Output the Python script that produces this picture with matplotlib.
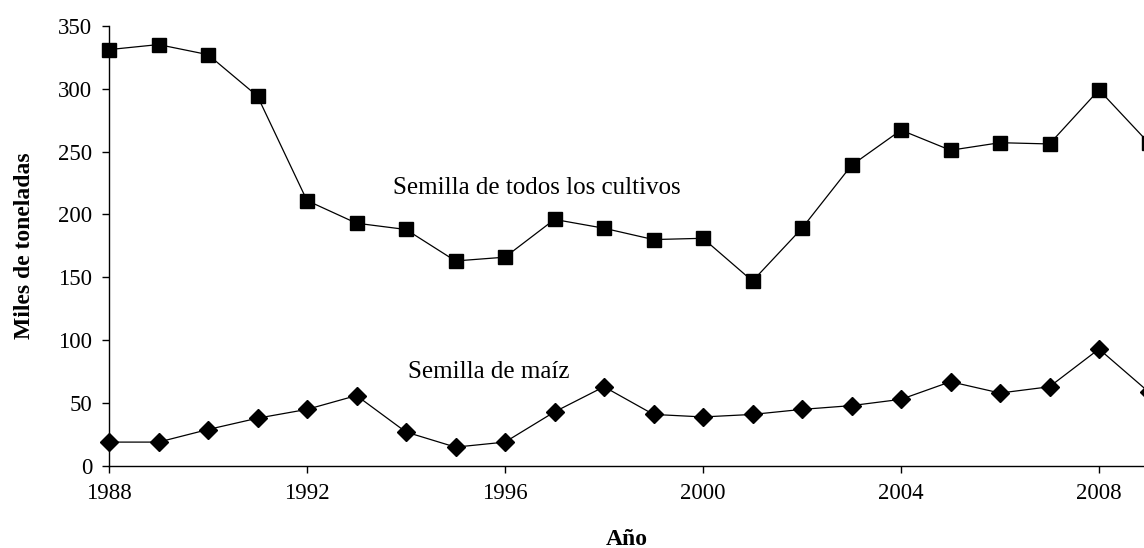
import matplotlib
matplotlib.use("Agg")
import matplotlib.pyplot as plt

years = list(range(1988, 2010))
todos = [331, 335, 327, 294, 211, 193, 188, 163, 166, 196, 189, 180, 181, 147,
         189, 239, 267, 251, 257, 256, 299, 257]
maiz = [19, 19, 29, 38, 45, 56, 27, 15, 19, 43, 63, 41, 39, 41,
        45, 48, 53, 67, 58, 63, 93, 59]
xticks = [1988, 1992, 1996, 2000, 2004, 2008]
yticks = [0, 50, 100, 150, 200, 250, 300, 350]

plt.rcParams['font.family'] = ['Liberation Serif', 'DejaVu Serif']

fig = plt.figure(figsize=(11.44, 5.48), dpi=100)
ax = fig.add_axes([109/1144, 82/548, 1 - 109/1144, (466 - 25.7)/548])

ax.plot(years, todos, color='black', lw=0.9, marker='s', ms=9.5,
        markerfacecolor='black', markeredgecolor='black', clip_on=False, zorder=3)
ax.plot(years, maiz, color='black', lw=0.9, marker='D', ms=9.3,
        markerfacecolor='black', markeredgecolor='black', clip_on=False, zorder=3)

ax.set_xlim(1988, 1988 + (1144 - 109) / 49.5)
ax.set_ylim(0, 350)
ax.set_xticks(xticks)
ax.set_yticks(yticks)
ax.spines['top'].set_visible(False)
ax.spines['right'].set_visible(False)
for s in ('left', 'bottom'):
    ax.spines[s].set_linewidth(1.0)
ax.tick_params(axis='both', direction='out', length=5, width=1.0,
               labelsize=16.5, pad=7)

ax.set_ylabel('Miles de toneladas', fontsize=17, fontweight='bold', labelpad=17)
ax.set_xlabel('Año', fontsize=17, fontweight='bold', labelpad=18)

ax.text(1988 + (393 - 109) / 49.5, 221, 'Semilla de todos los cultivos',
        fontsize=18, ha='left', va='center')
ax.text(1988 + (408 - 109) / 49.5, 75, 'Semilla de maíz',
        fontsize=18, ha='left', va='center')

fig.savefig('out.png', dpi=100)
